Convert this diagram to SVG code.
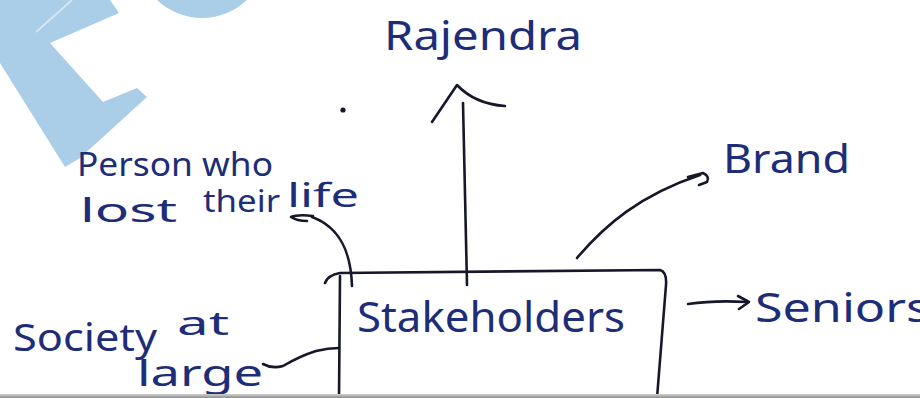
<svg xmlns="http://www.w3.org/2000/svg" width="920" height="398" viewBox="0 0 920 398">
  <defs>
    <style>
      .hand { font-family: "Noto Sans", "DejaVu Sans", sans-serif; fill: #1d2d78; }
      .ln { fill: none; stroke: #16182a; stroke-width: 2.6; stroke-linecap: round; stroke-linejoin: round; }
      .wm { fill: #aacde8; }
    </style>
    <linearGradient id="edge" x1="0" y1="0" x2="0" y2="1">
      <stop offset="0" stop-color="#d2d2d2"/>
      <stop offset="1" stop-color="#8c8c8c"/>
    </linearGradient>
  </defs>

  <rect x="0" y="0" width="920" height="398" fill="#ffffff"/>

  <!-- faint watermark shapes -->
  <g id="watermark">
    <polygon class="wm" points="0,0 110,0 119,13 50,43 103,102 137,88 147,97 80,158 65,167 0,63"/>
    <line x1="36" y1="32" x2="72" y2="0" stroke="#d4e6f4" stroke-width="2"/>
    <circle class="wm" cx="202" cy="-47" r="65"/>
  </g>

  <!-- connectors -->
  <g id="connectors">
    <!-- up arrow to Rajendra -->
    <path class="ln" d="M467,285 L463,103"/>
    <path class="ln" d="M432,122 L457,85 Q475,104 505,106"/>
    <!-- to person who lost their life -->
    <path class="ln" d="M352,286 C351,255 342,228 312,217"/>
    <path class="ln" d="M313,216 Q298,214 291,217 Q297,221 307,221" stroke="#1d2d78"/>
    <!-- to Brand -->
    <path class="ln" d="M577,258 C605,225 640,195 700,175"/>
    <path class="ln" d="M688,177 L703,173 Q710,176 707,182 L699,185"/>
    <!-- to Seniors -->
    <path class="ln" d="M688,304 Q715,300 747,302" stroke="#1d2d78"/>
    <path class="ln" d="M738,296 L749,302 L739,309" stroke="#1d2d78"/>
    <!-- to Society at large -->
    <path class="ln" d="M263,364 Q272,369 283,366 Q300,356 316,351 Q328,348 339,348"/>
  </g>

  <!-- stray dot -->
  <circle cx="343" cy="110" r="2.6" fill="#16182a"/>

  <g id="stakeholders">
    <path class="ln" d="M325,283 Q328,275 340,273 L660,270 Q667,272 666,285 L657,398"/>
    <path class="ln" d="M340,276 L339,398"/>
    <text class="hand" x="357" y="332" font-size="42" textLength="268" lengthAdjust="spacingAndGlyphs">Stakeholders</text>
  </g>

  <g id="rajendra">
    <text class="hand" x="384" y="50" font-size="40" textLength="198" lengthAdjust="spacingAndGlyphs">Rajendra</text>
  </g>

  <g id="person">
    <text class="hand" x="77" y="176" font-size="32" textLength="196" lengthAdjust="spacingAndGlyphs">Person who</text>
    <text class="hand" x="80" y="222" font-size="33" textLength="97" lengthAdjust="spacingAndGlyphs">lost</text>
    <text class="hand" x="203" y="212" font-size="30" textLength="77" lengthAdjust="spacingAndGlyphs">their</text>
    <text class="hand" x="287" y="207" font-size="33" textLength="72" lengthAdjust="spacingAndGlyphs">life</text>
  </g>

  <g id="brand">
    <text class="hand" x="723" y="173" font-size="40" textLength="127" lengthAdjust="spacingAndGlyphs">Brand</text>
  </g>

  <g id="seniors">
    <text class="hand" x="755" y="322" font-size="40" textLength="175" lengthAdjust="spacingAndGlyphs">Seniors</text>
  </g>

  <g id="society">
    <text class="hand" x="13" y="351" font-size="38" textLength="144" lengthAdjust="spacingAndGlyphs">Society</text>
    <text class="hand" x="177" y="335" font-size="32" textLength="52" lengthAdjust="spacingAndGlyphs">at</text>
    <text class="hand" x="137" y="386" font-size="36" textLength="126" lengthAdjust="spacingAndGlyphs">large</text>
  </g>

  <rect x="0" y="394" width="920" height="4" fill="url(#edge)"/>
</svg>
